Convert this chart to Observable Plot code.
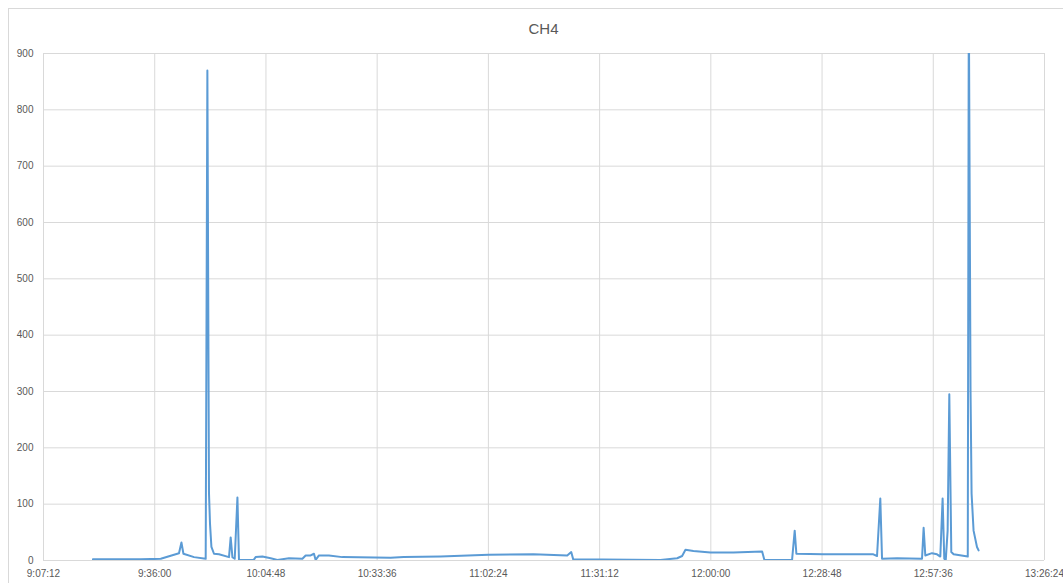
<!DOCTYPE html>
<html><head><meta charset="utf-8">
<script src="https://cdn.jsdelivr.net/npm/d3@7"></script>
<script src="https://cdn.jsdelivr.net/npm/@observablehq/plot@0.6"></script>
<style>
html,body{margin:0;padding:0;background:#fff;overflow:hidden}
#wrap{position:relative;width:1063px;height:583px;overflow:hidden}
#frame{position:absolute;left:8px;top:8px;width:1100px;height:620px;border:1px solid #d9d9d9;box-sizing:border-box}
#title{position:absolute;left:0;width:1087px;top:20px;text-align:center;font:15px "Liberation Sans",Arial,sans-serif;color:#595959}
#chart{position:absolute;left:0;top:0}
</style></head><body>
<div id="wrap"><div id="frame"></div><div id="title">CH4</div><div id="chart"></div></div>
<script>
const times = [
  "9:20:00","9:32:23","9:37:34","9:42:17","9:42:55","9:43:26","9:46:11","9:49:12","9:49:38","9:50:03",
  "9:50:19","9:50:41","9:51:21","9:52:39","9:55:14","9:55:40","9:56:07","9:56:43","9:57:25","9:57:49",
  "10:01:38","10:02:08","10:03:53","10:06:02","10:07:46","10:10:46","10:14:14","10:15:05","10:16:23","10:17:14",
  "10:17:40","10:18:32","10:21:07","10:24:35","10:37:05","10:40:27","10:50:01","11:02:26","11:14:05","11:22:49",
  "11:23:51","11:24:22","11:46:58","11:51:17","11:52:34","11:53:26","11:55:30","11:59:54","12:05:51","12:13:17",
  "12:13:52","12:21:02","12:21:43","12:22:09","12:29:08","12:42:05","12:43:02","12:43:53","12:44:20","12:48:13",
  "12:54:41","12:55:06","12:55:32","12:57:16","12:58:34","12:59:25","13:00:01","13:00:27","13:00:50","13:01:19",
  "13:01:45","13:02:16","13:02:52","13:06:32","13:06:48","13:07:15","13:07:31","13:08:02","13:08:55","13:09:20"
];
const ch4 = [
  2,2,3,13,32,12,6,3,870,120,
  65,24,12,11,6,41,6,3,112,1,
  1,6,7,4,1,4,3,9,9,12,
  1,9,9,6,5,6,7,10,11,9,
  15,2,1,4,8,19,17,14,14,16,
  1,1,53,12,11,11,8,110,3,4,
  3,58,9,13,11,7,110,3,1,53,
  295,15,11,7,1000,300,119,53,24,18
];
const xTickLabels = ["9:07:12","9:36:00","10:04:48","10:33:36","11:02:24","11:31:12","12:00:00","12:28:48","12:57:36","13:26:24"];
const yTicks = [0,100,200,300,400,500,600,700,800,900];

const parse = s => new Date("2020-01-01T" + s.padStart(8, "0") + "Z");
const data = times.map((t, i) => ({t: parse(t), v: ch4[i]}));
const xTicks = xTickLabels.map(parse);
const fmt = d3.utcFormat("%-H:%M:%S");

const chart = Plot.plot({
  width: 1063, height: 583,
  marginLeft: 43, marginRight: 19, marginTop: 53, marginBottom: 23,
  style: {fontFamily: "'Liberation Sans', Arial, sans-serif", fontSize: "10px", color: "#595959", background: "transparent"},
  x: {type: "utc", domain: [xTicks[0], xTicks[xTicks.length - 1]], ticks: xTicks, tickFormat: fmt, tickSize: 0, tickPadding: 9, label: null},
  y: {domain: [0, 900], ticks: yTicks, tickSize: 0, tickPadding: 10, label: null},
  marks: [
    Plot.gridX(xTicks, {stroke: "#d9d9d9", strokeOpacity: 1}),
    Plot.gridY(yTicks, {stroke: "#d9d9d9", strokeOpacity: 1}),
    Plot.lineY(data, {x: "t", y: "v", stroke: "#5B9BD5", strokeWidth: 2, clip: true})
  ]
});
document.getElementById("chart").appendChild(chart);
</script>
</body></html>
